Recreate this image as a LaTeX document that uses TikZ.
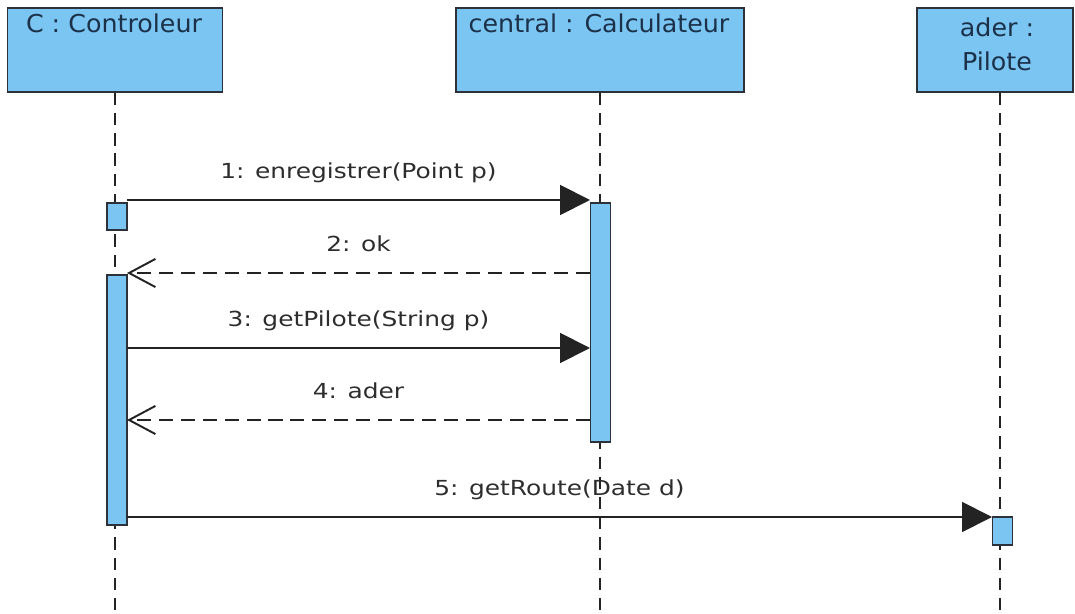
\documentclass[tikz,border=0pt]{standalone}
\usepackage{fontspec}
\setmainfont{DejaVu Sans}
\newfontfamily\objfont[FakeStretch=1.03]{DejaVu Sans}
\newfontfamily\msgfont[FakeStretch=1.2]{DejaVu Sans}
\usetikzlibrary{arrows.meta}

\definecolor{lifeblue}{RGB}{122,197,242}
\definecolor{boxline}{RGB}{45,50,58}
\definecolor{labelink}{RGB}{28,48,72}
\definecolor{msgink}{RGB}{45,45,45}
\definecolor{msgline}{RGB}{35,35,35}

\begin{document}
\begin{tikzpicture}[x=0.02cm, y=-0.02cm,
		objbox/.style={draw=boxline, fill=lifeblue, line width=1pt, inner sep=0pt},
		actbar/.style={draw=boxline, fill=lifeblue, line width=0.8pt, minimum width=0.4cm, inner sep=0pt},
		lifeline/.style={dash pattern=on 7pt off 4.5pt, line width=0.8pt, draw=msgline},
		objlabel/.style={text=labelink, font=\objfont\fontsize{14}{19}\selectfont},
		msglabel/.style={text=msgink, font=\msgfont\fontsize{11.8}{14}\selectfont, text height=9pt, text depth=2.5pt, midway, above=6pt},
		call/.style={-{Triangle[length=17pt, width=17pt]}, line width=1.1pt, draw=msgline},
		reply/.style={-{Straight Barb[length=15pt, width=16pt]}, line width=1.1pt, dash pattern=on 8pt off 4.5pt, draw=msgline}]
			\useasboundingbox (0, 0) rectangle (1075, 614);
			
			% objects
			\node [objbox, minimum width=4.3cm, minimum height=1.68cm] (ctrl) at (115, 50) {};
			\node [objbox, minimum width=5.76cm, minimum height=1.68cm] (calc) at (600, 50) {};
			\node [objbox, minimum width=3.12cm, minimum height=1.68cm] (pilo) at (995, 50) {};
			\node [objlabel, anchor=base] (ctrltxt) at (114, 33) {C : Controleur};
			\node [objlabel, anchor=base] (calctxt) at (599, 33) {central : Calculateur};
			\node [objlabel, align=center, anchor=north] (pilotxt) at (997, 12) {ader :\\Pilote};
			
			% lifelines
			\coordinate (ctrlend) at (115, 614);
			\coordinate (calcend) at (600, 614);
			\coordinate (piloend) at (1000, 614);
			\draw [lifeline] (ctrl.south) -- (ctrlend);
			\draw [lifeline] (calc.south) -- (calcend);
			\draw [lifeline] (pilo.south -| piloend) -- (piloend);
			
			% activations
			\node [actbar, minimum height=0.54cm] (ctrlact1) at (117, 216.5) {};
			\node [actbar, minimum height=5cm] (ctrlact2) at (117, 400) {};
			\node [actbar, minimum height=4.78cm] (calcact) at (600.5, 322.5) {};
			\node [actbar, minimum height=0.56cm] (piloact) at (1002.5, 531) {};
			
			% messages
			\coordinate (msg1a) at (127, 200);
			\coordinate (msg1b) at (590, 200);
			\coordinate (msg2a) at (590, 273);
			\coordinate (msg2b) at (127, 273);
			\coordinate (msg3a) at (127, 348);
			\coordinate (msg3b) at (590, 348);
			\coordinate (msg4a) at (590, 420);
			\coordinate (msg4b) at (127, 420);
			\coordinate (msg5a) at (127, 517);
			\coordinate (msg5b) at (992, 517);
			\draw [call] (msg1a) -- (msg1b) node [msglabel] (lbl1) {1: enregistrer(Point p)};
			\draw [reply] (msg2a) -- (msg2b) node [msglabel] (lbl2) {2: ok};
			\draw [call] (msg3a) -- (msg3b) node [msglabel] (lbl3) {3: getPilote(String p)};
			\draw [reply] (msg4a) -- (msg4b) node [msglabel] (lbl4) {4: ader};
			\draw [call] (msg5a) -- (msg5b) node [msglabel] (lbl5) {5: getRoute(Date d)};
		\end{tikzpicture}
\end{document}
